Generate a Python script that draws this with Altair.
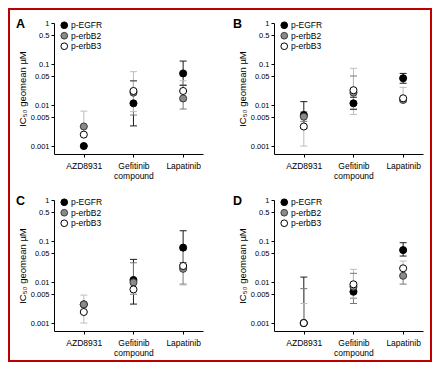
import altair as alt
import pandas as pd

compounds = ["AZD8931", "Gefitinib compound", "Lapatinib"]
series = ["p-EGFR", "p-erbB2", "p-erbB3"]
y_ticks = [1, 0.5, 0.1, 0.05, 0.01, 0.005, 0.001]
letters = ["A", "B", "C", "D"]

# rows: p-EGFR, p-erbB2, p-erbB3 ; columns follow `compounds`
A_mean = [[0.001, 0.011, 0.059], [0.0030, 0.020, 0.0145], [0.0019, 0.022, 0.022]]
A_low = [[0.001, 0.0031, 0.030], [0.0030, 0.0057, 0.008], [0.0019, 0.0069, 0.0125]]
A_high = [[0.001, 0.039, 0.118], [0.0030, 0.039, 0.031], [0.0071, 0.065, 0.039]]

B_mean = [[0.0057, 0.011, 0.045], [0.0052, 0.020, 0.0133], [0.0030, 0.023, 0.0146]]
B_low = [[0.0027, 0.0078, 0.034], [0.004, 0.008, 0.012], [0.001, 0.0059, 0.012]]
B_high = [[0.0121, 0.0155, 0.059], [0.0068, 0.051, 0.0145], [0.0055, 0.0785, 0.027]]

C_mean = [[0.00285, 0.0112, 0.069], [0.00285, 0.0098, 0.021], [0.00186, 0.0066, 0.0246]]
C_low = [[0.00285, 0.0029, 0.0267], [0.00285, 0.005, 0.0089], [0.001, 0.0051, 0.0085]]
C_high = [[0.00285, 0.0357, 0.178], [0.00285, 0.0295, 0.030], [0.0048, 0.0085, 0.06]]

D_mean = [[0.001, 0.0058, 0.060], [0.001, 0.0077, 0.0142], [0.001, 0.0088, 0.0216]]
D_low = [[0.001, 0.0040, 0.043], [0.001, 0.0030, 0.0089], [0.001, 0.0040, 0.014]]
D_high = [[0.0132, 0.0085, 0.091], [0.0069, 0.0163, 0.022], [0.0030, 0.0204, 0.0325]]

bar_colors = ["#1a1a1a", "#777777", "#bdbdbd"]
dot_fill = ["#000000", "#8a8a8a", "#ffffff"]
dot_stroke = ["#000000", "#3a3a3a", "#000000"]

FONT = "Liberation Sans"
W, H = 149, 131

def make_df(mean, low, high):
    rows = []
    for i, s in enumerate(series):
        for j, c in enumerate(compounds):
            rows.append({"compound": c, "series": s, "ord": i,
                         "mean": mean[i][j], "low": low[i][j], "high": high[i][j]})
    return pd.DataFrame(rows)

yscale = alt.Scale(type="log", domain=[0.00064, 1], nice=False)
yaxis = alt.Axis(values=y_ticks, format="~g", title="IC₅₀ geomean µM",
                 titleFontSize=9.5, titleFontWeight="normal", titlePadding=3,
                 labelFontSize=7.5, labelPadding=2, tickSize=3, grid=False)
xenc = alt.X("compound:N", sort=compounds,
             scale=alt.Scale(type="point", domain=compounds, paddingOuter=0.46, align=0.6),
             axis=alt.Axis(title=None, labelAngle=0, labelFontSize=8.5, labelPadding=4,
                           labelLineHeight=10, tickSize=3, grid=False,
                           labelExpr="split(datum.label, ' ')"))
# bar colour scale: data-derived domain so its (hidden) legend is not merged with the dot legend
cscale = alt.Scale(range=bar_colors)

leg = alt.Legend(orient="none", legendX=6, legendY=-2, title=None, labelFontSize=8.5,
                 symbolSize=45, symbolStrokeWidth=1, rowPadding=-1.5, labelOffset=2.5,
                 padding=0, symbolType="circle")

one = pd.DataFrame({"k": [0]})

def panel(idx, mean, low, high, letter_dx):
    df = make_df(mean, low, high)
    base = alt.Chart(df).encode(x=xenc)
    bars = base.mark_rule(strokeWidth=1).encode(
        y=alt.Y("low:Q", scale=yscale, axis=yaxis), y2="high:Q",
        color=alt.Color("series:N", scale=cscale, legend=None),
        order=alt.Order("ord:Q"))
    cap_lo = base.mark_tick(thickness=1, size=7, opacity=1).encode(
        y=alt.Y("low:Q", scale=yscale, axis=yaxis),
        color=alt.Color("series:N", scale=cscale, legend=None),
        order=alt.Order("ord:Q"))
    cap_hi = base.mark_tick(thickness=1, size=7, opacity=1).encode(
        y=alt.Y("high:Q", scale=yscale, axis=yaxis),
        color=alt.Color("series:N", scale=cscale, legend=None),
        order=alt.Order("ord:Q"))
    dots = base.mark_point(shape="circle", filled=True, size=50, strokeWidth=1, opacity=1).encode(
        y=alt.Y("mean:Q", scale=yscale, axis=yaxis),
        fill=alt.Fill("series:N", scale=alt.Scale(domain=series, range=dot_fill), legend=leg),
        stroke=alt.Stroke("series:N", scale=alt.Scale(domain=series, range=dot_stroke), legend=leg),
        order=alt.Order("ord:Q"))
    letter = alt.Chart(one).mark_text(text=letters[idx], align="left", baseline="alphabetic",
                                      fontSize=12.5, fontWeight="bold", font=FONT, color="black").encode(
        x=alt.value(letter_dx), y=alt.value(5))
    layers = [bars, cap_lo, cap_hi, dots, letter]
    if idx == 0:
        border = alt.Chart(one).mark_rect(filled=False, color="#c00000", strokeWidth=2).encode(
            x=alt.value(-45), x2=alt.value(377), y=alt.value(-14), y2=alt.value(338))
        layers.append(border)
    return alt.layer(*layers).properties(width=W, height=H)

pA = panel(0, A_mean, A_low, A_high, -38)
pB = panel(1, B_mean, B_low, B_high, -41)
pC = panel(2, C_mean, C_low, C_high, -38)
pD = panel(3, D_mean, D_low, D_high, -41)

chart = alt.concat(pA, pB, pC, pD, columns=2, spacing={"row": 46, "column": 71}, bounds="flush").resolve_scale(
    fill="independent", stroke="independent", color="independent"
).resolve_legend(fill="independent", stroke="independent").properties(
    padding=0, background="white"
).configure_view(strokeWidth=0).configure_axis(
    labelFont=FONT, titleFont=FONT, labelColor="black", titleColor="black",
    domainColor="black", tickColor="black", domainWidth=1, tickWidth=1
).configure_legend(labelColor="black", labelFont=FONT)

chart.save("out.html", embed_options={"renderer": "svg", "actions": False})
